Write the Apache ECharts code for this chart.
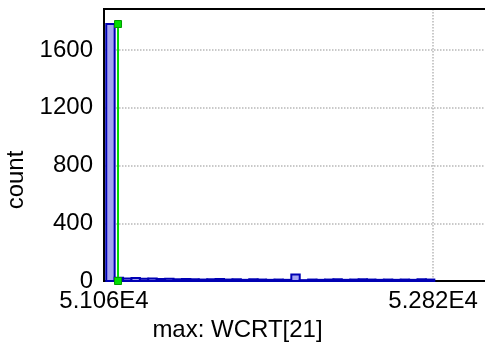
<!DOCTYPE html>
<html>
<head>
<meta charset="utf-8">
<script src="https://cdn.jsdelivr.net/npm/echarts@6/dist/echarts.min.js"></script>
<style>
  html, body { margin: 0; padding: 0; background: #fff; }
  #chart { width: 485px; height: 348px; }
</style>
</head>
<body>
<div id="chart"></div>
<script>
// histogram bins (value range of each bin) and counts
var binStart = 51072;
var binWidth = 45;
var counts = [1780, 22, 18, 20, 16, 18, 14, 16, 12, 14, 12, 10, 12, 14, 10, 12, 8, 12, 10, 8,
  10, 8, 45, 6, 10, 8, 10, 12, 8, 10, 12, 10, 8, 10, 8, 10, 8, 12, 10];
// green marker line (value, height)
var markerX = 51135;
var markerTop = 1780;
// axis ticks
var xTicks = [51060, 52820];
var xTickLabels = ["5.106E4", "5.282E4"];
var yTicks = [0, 400, 800, 1200, 1600];

var bins = [];
for (var i = 0; i < counts.length; i++) {
  bins.push([binStart + i * binWidth, binStart + (i + 1) * binWidth, counts[i]]);
}

var myChart = echarts.init(document.getElementById("chart"));
var font = "Liberation Sans";
var option = {
  backgroundColor: "#fff",
  animation: false,
  grid: {
    left: 104,
    right: -20,
    top: 9,
    bottom: 67,
    outerBoundsMode: "none",
    containLabel: false,
    show: true,
    borderColor: "#000",
    borderWidth: 2,
    backgroundColor: "transparent"
  },
  xAxis: [
    {
      type: "value",
      min: 51060,
      max: 53205,
      interval: 1760,
      axisLine: { show: true, lineStyle: { color: "#000", width: 2 } },
      axisTick: { show: false },
      splitLine: { show: true, lineStyle: { color: "#b8b8b8", type: "dotted", width: 1.5 } },
      axisLabel: {
        showMaxLabel: false,
        margin: 8,
        color: "#000",
        fontFamily: font,
        fontSize: 24,
        formatter: function (v) {
          var k = xTicks.indexOf(v);
          return k >= 0 ? xTickLabels[k] : "";
        }
      },
      name: "max: WCRT[21]",
      nameLocation: "middle",
      nameGap: 31,
      nameTextStyle: { color: "#000", fontFamily: font, fontSize: 24, padding: [0, 134, 0, 0] }
    },
    {
      // top frame line
      type: "value",
      position: "top",
      min: 51060,
      max: 53205,
      axisLine: { show: true, onZero: false, lineStyle: { color: "#000", width: 2 } },
      axisTick: { show: false },
      axisLabel: { show: false },
      splitLine: { show: false }
    }
  ],
  yAxis: {
    type: "value",
    min: 0,
    max: 1884,
    interval: 400,
    axisLine: { show: true, lineStyle: { color: "#000", width: 2 } },
    axisTick: { show: false },
    splitLine: { show: true, lineStyle: { color: "#b8b8b8", type: "dotted", width: 1.5 } },
    axisLabel: {
      showMaxLabel: false,
      margin: 11,
      color: "#000",
      fontFamily: font,
      fontSize: 24,
      formatter: function (v) {
        return yTicks.indexOf(v) >= 0 ? String(v) : "";
      }
    },
    name: "count",
    nameLocation: "middle",
    nameGap: 75,
    nameTextStyle: { color: "#000", fontFamily: font, fontSize: 24, padding: [0, 70, 0, 0] }
  },
  series: [
    {
      type: "custom",
      data: bins,
      renderItem: function (params, api) {
        var p0 = api.coord([api.value(0), api.value(2)]);
        var p1 = api.coord([api.value(1), 0]);
        return {
          type: "rect",
          shape: { x: p0[0], y: p0[1], width: p1[0] - p0[0], height: p1[1] - p0[1] },
          style: { fill: "#a4a4f2", stroke: "#0000b4", lineWidth: 2 }
        };
      },
      z: 2
    },
    {
      type: "line",
      data: [[markerX, 0], [markerX, markerTop]],
      symbol: "rect",
      symbolSize: 7,
      lineStyle: { color: "#00dd00", width: 2 },
      itemStyle: { color: "#00dd00", borderColor: "#009900", borderWidth: 1 },
      z: 3
    }
  ]
};
myChart.setOption(option, true);
</script>
</body>
</html>
